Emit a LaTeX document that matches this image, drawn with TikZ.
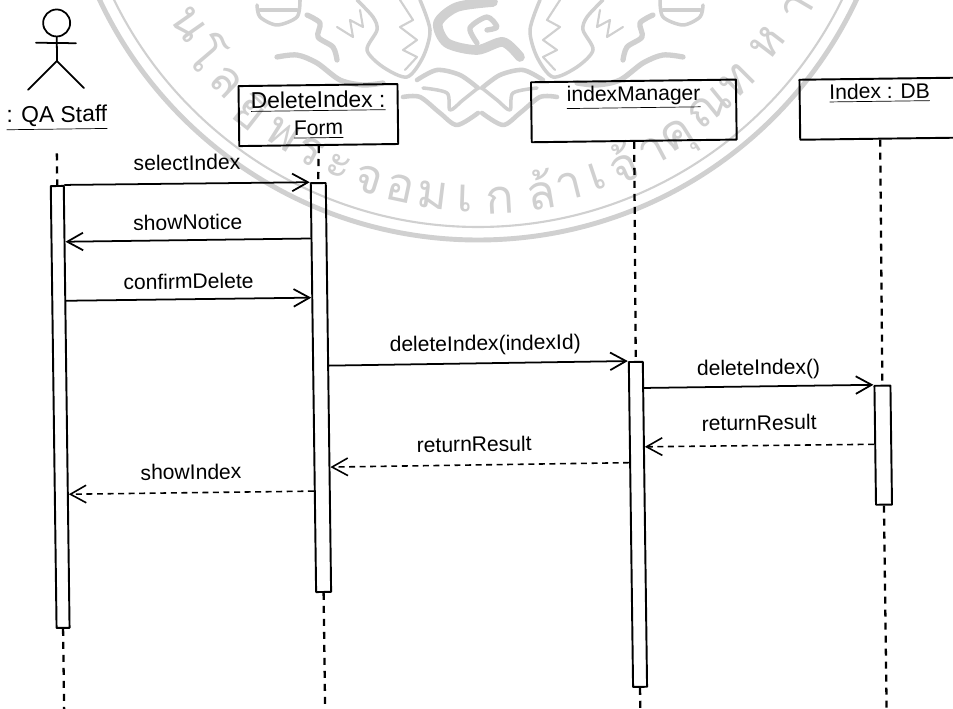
\documentclass[tikz,border=0pt]{standalone}
\usepackage{fontspec}
\setmainfont{Liberation Sans}
\newfontfamily\thaifont[Script=Thai]{Loma}
\usetikzlibrary{arrows.meta,calc}
\definecolor{sealgray}{RGB}{208,208,208}
\tikzset{
	seal/.style={draw=sealgray,line width=2pt},
	objbox/.style={draw,line width=1.1pt,align=center,inner sep=0pt,minimum height=1.2cm},
	bar/.style={draw,line width=1.1pt,inner sep=0pt},
	life/.style={line width=1.3pt,dash pattern=on 4pt off 3.4pt,line cap=butt},
	call/.style={->,line width=1pt},
	back/.style={->,line width=.9pt,dash pattern=on 3.4pt off 2.6pt,line cap=butt},
	msg/.style={above=#1,inner sep=0pt},
	msg/.default=7pt
}
\newcommand{\sealside}{
	\draw[seal] plot[smooth] coordinates {(257,5) (260,17) (277,25) (297,17) (300,0)};
	\draw[seal] (260,10)--(297,10);
	\draw[seal] plot[smooth] coordinates {(420,0) (430,30) (423,57) (407,77) (383,67) (367,50) (377,30) (373,17) (357,0)};
	\draw[seal,line width=1.2pt] (337,27)--(353,37)--(350,20)--(363,27)--(360,10);
	\draw[seal,line width=1.2pt] (400,0)--(413,20)--(400,27)--(417,40)--(403,50)--(417,57)--(405,70);
	\draw[seal,line width=3pt] plot[smooth] coordinates {(277,57) (297,55) (317,63) (340,80) (363,85) (383,83)};
	\draw[seal,line width=3pt] plot[smooth] coordinates {(307,15) (320,23) (318,37) (333,47) (337,60)};
	\draw[seal,line width=2.6pt] plot[smooth] coordinates {(417,80) (437,70) (460,75) (478,88)};
	\draw[seal,line width=2.6pt] plot[smooth] coordinates {(403,97) (420,97) (440,113) (457,125) (478,113)};
	\draw[seal] plot[smooth] coordinates {(423,88) (447,93) (450,110) (463,100) (478,88)};
}
\begin{document}
\begin{tikzpicture}[>={Straight Barb[length=9pt,width=10pt]},line join=round,line cap=round,x=.02cm,y=-.02cm,font=\fontsize{12}{15.5}\selectfont]
	\useasboundingbox (0,0) rectangle (953,709);
	\clip (0,0) rectangle (953,709);
	% watermark
	\draw[sealgray,line width=2.8pt] (478,-178) circle (418);
	\draw[sealgray,line width=1.2pt] (478,-178) circle (405);
	\sealside
	\begin{scope}[shift={(960,0)},xscale=-1]
		\sealside
	\end{scope}
	\draw[seal,line width=5.5pt] plot[smooth] coordinates {(493,2) (457,7) (438,23) (447,43) (477,50) (503,42) (520,57)};
	\draw[seal,line width=3pt] plot[smooth] coordinates {(477,43) (470,28) (487,17) (497,27) (487,30)};
	\foreach \ang/\rad/\ch in {-55/353/น,-49.6/355/โ,-44/362/ล,-38/365/ยี,-32/368/พ,-27/370/ร,-22/372/ะ,-17/374/จ,-12/375/อ,-7/376/ม,-2/377/เ,3.3/379/ก,9.6/373/ล้,14/376/า,18.5/374/เ,23/370/จ้,28/373/า,32.4/377/คุ,39/367/ณ,45/366/ท,52.6/364/ห,59.7/370/า}
		\node[sealgray,rotate=\ang,inner sep=0pt,font=\thaifont\fontsize{27}{27}\selectfont] (wm\ang) at ({478+\rad*sin(\ang)},{-178+\rad*cos(\ang)}) {\ch};
	% the scan is a little tilted
	\begin{scope}[rotate around={0.75:(476,354)},transform shape]
	% actor
	\node[draw,circle,line width=1pt,minimum size=.54cm,inner sep=0pt] (head) at (61,17.5) {};
	\coordinate (hip) at (60.8,55.5);
	\coordinate (armL) at (40,37);
	\coordinate (armR) at (80,38);
	\coordinate (legL) at (31.5,84);
	\coordinate (legR) at (87.5,83);
	\draw[line width=1pt] (head.south)--(hip) (armL)--(armR) (legL)--(hip)--(legR);
	\node[font=\fontsize{13}{15.5}\selectfont] (staff) at (60,112.5) {\underline{: QA Staff}};
	% objects
	\node[objbox,minimum width=3.18cm] (form) at (321.5,113) {\fontsize{13}{15.5}\selectfont\underline{DeleteIndex :}\\\underline{Form}};
	\node[objbox,minimum width=4.1cm] (manager) at (637,113) {\underline{indexManager}\\\strut};
	\node[objbox,minimum width=3.2cm] (db) at (883,114) {\underline{Index : DB}\\\strut};
	% activation bars
	\node[bar,minimum width=.26cm,minimum height=8.84cm] (barA) at (59.5,401.5) {};
	\node[bar,minimum width=.3cm,minimum height=8.18cm] (barF) at (320.5,385.5) {};
	\node[bar,minimum width=.28cm,minimum height=6.5cm] (barM) at (635.7,526.5) {};
	\node[bar,minimum width=.32cm,minimum height=2.38cm] (barD) at (882,450.5) {};
	% lifelines
	\coordinate (staffTop) at (59.5,148);
	\coordinate (staffEnd) at (59.5,730);
	\coordinate (formEnd) at (320.5,730);
	\coordinate (managerEnd) at (635.7,730);
	\coordinate (dbEnd) at (882,730);
	\draw[life] (staffTop)--(barA.north) (barA.south)--(staffEnd);
	\draw[life] (form.south)--(barF.north) (barF.south)--(formEnd);
	\draw[life] (manager.south)--(barM.north) (barM.south)--(managerEnd);
	\draw[life] (db.south)--(barD.north) (barD.south)--(dbEnd);
	% messages
	\draw[call] (barA.north east)--(barF.north west) node[msg,midway] (m1) {selectIndex};
	\draw[call] ($(barF.north west)!.137!(barF.south west)$)--($(barA.north east)!.128!(barA.south east)$) node[msg=5.3pt,midway] (m2) {showNotice};
	\draw[call] ($(barA.north east)!.261!(barA.south east)$)--($(barF.north west)!.281!(barF.south west)$) node[msg=5.3pt,midway] (m3) {confirmDelete};
	\draw[call] ($(barF.north east)!.447!(barF.south east)$)--(barM.north west) node[msg=4.2pt,midway,xshift=4] (m4) {deleteIndex(indexId)};
	\draw[call] ($(barM.north east)!.083!(barM.south east)$)--(barD.north west) node[msg=3.6pt,midway] (m5) {deleteIndex()};
	\draw[back] ($(barD.north west)!.492!(barD.south west)$)--($(barM.north east)!.263!(barM.south east)$) node[msg=8.1pt,midway] (m6) {returnResult};
	\draw[back] ($(barM.north west)!.311!(barM.south west)$)--($(barF.north east)!.694!(barF.south east)$) node[msg,midway,xshift=-3] (m7) {returnResult};
	\draw[back] ($(barF.north west)!.752!(barF.south west)$)--($(barA.north east)!.697!(barA.south east)$) node[msg,midway] (m8) {showIndex};
	\end{scope}
\end{tikzpicture}
\end{document}
